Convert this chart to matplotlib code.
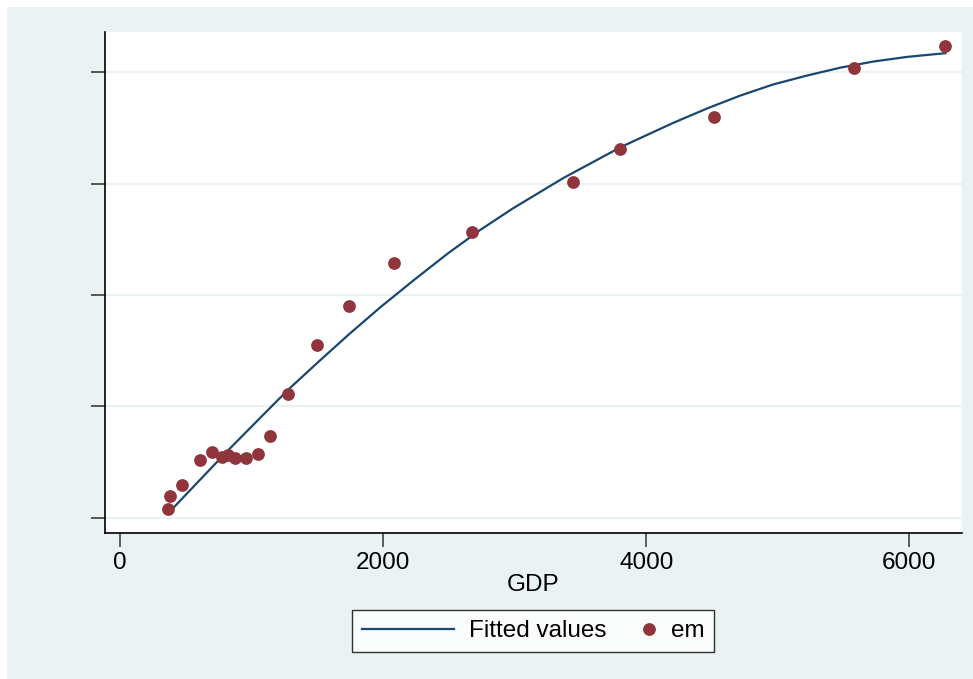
import matplotlib.pyplot as plt
from matplotlib.patches import Rectangle
from matplotlib.legend_handler import HandlerLine2DCompound

plt.rcParams['font.family'] = ['Liberation Sans', 'DejaVu Sans']

# data (y axis has no labels, units are arbitrary)
gdp = [365, 380, 471, 608, 700, 776, 821, 875, 958, 1049, 1141,
       1278, 1498, 1741, 2084, 2677, 3445, 3802, 4517, 5582, 6274]
em = [0.08, 0.20, 0.30, 0.52, 0.59, 0.55, 0.565, 0.54, 0.54, 0.57, 0.735,
      1.11, 1.55, 1.90, 2.29, 2.565, 3.01, 3.31, 3.60, 4.04, 4.23]

# fitted curve
fit_x = [403, 814, 1141, 1285, 1506, 1741, 1977, 2228, 2487, 2738, 2989,
         3369, 3810, 4205, 4464, 4715, 4966, 5224, 5475, 5726, 5985, 6274]
fit_y = [0.09, 0.60, 0.99, 1.16, 1.40, 1.65, 1.89, 2.13, 2.37, 2.585,
         2.78, 3.05, 3.33, 3.545, 3.675, 3.79, 3.89, 3.97, 4.04, 4.095,
         4.137, 4.17]

xticks = [0, 2000, 4000, 6000]
yticks = [0, 1, 2, 3, 4]

navy = '#1A476F'
cranberry = '#90353B'
bg = '#EAF2F3'
fs = 17.5


class MarkerRight(HandlerLine2DCompound):
    # put the dot at the right end of the handle box, like stata does
    def get_xdata(self, legend, xdescent, ydescent, width, height, fontsize):
        xd, _ = super().get_xdata(legend, xdescent, ydescent, width, height, fontsize)
        return xd, [width - xdescent - 0.3 * fontsize]


W, H = 973, 679
fig = plt.figure(figsize=(W / 100, H / 100), dpi=100, facecolor='white')
fig.patches.append(Rectangle((7 / W, 0), 1 - 7 / W, 1 - 7 / H,
                             transform=fig.transFigure, facecolor=bg,
                             edgecolor='none', zorder=-10))

ax = fig.add_axes([104.5 / W, (H - 533) / H, (962 - 104.5) / W, (533 - 32) / H])
ax.set_facecolor('white')

ln, = ax.plot(fit_x, fit_y, color=navy, lw=1.6, label='Fitted values', zorder=3)
pts, = ax.plot(gdp, em, 'o', color=cranberry, ms=9.2, mew=0, label='em', zorder=4)

ax.set_xlim(-120, 6400)
ax.set_ylim(-0.135, 4.36)
ax.set_xticks(xticks)
ax.set_yticks(yticks)
ax.set_yticklabels([])
ax.grid(axis='y', color=bg, lw=1.6)
ax.set_axisbelow(True)

for s in ['top', 'right']:
    ax.spines[s].set_visible(False)
for s in ['left', 'bottom']:
    ax.spines[s].set_color('black')
    ax.spines[s].set_linewidth(1.2)

ax.tick_params(axis='x', length=10, width=1.2, color='#444444',
               labelsize=fs, pad=4)
ax.tick_params(axis='y', length=10, width=1.4, color='#555555')
ax.set_xlabel('GDP', fontsize=fs, labelpad=0)

leg = ax.legend(handles=[ln, pts], loc='center',
                bbox_to_anchor=(0.5, (533 - 631) / (533 - 32)),
                ncol=2, fontsize=fs, frameon=True, fancybox=False,
                edgecolor='black', handlelength=3.8, columnspacing=-1.75,
                handletextpad=0.6, borderpad=0.4, borderaxespad=0,
                handler_map={pts: MarkerRight()})
leg.get_frame().set_linewidth(1.0)

fig.savefig('out.png', dpi=100, facecolor=fig.get_facecolor())
